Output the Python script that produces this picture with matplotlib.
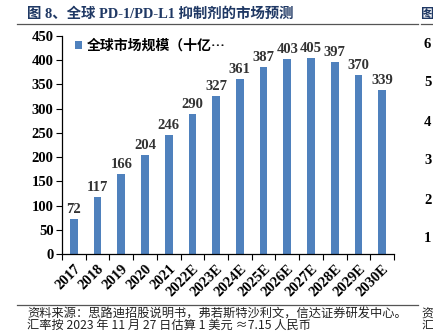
import matplotlib.pyplot as plt
import numpy as np

# global PD-1/PD-L1 inhibitor market, billion USD
years = ['2017', '2018', '2019', '2020', '2021', '2022E', '2023E', '2024E',
         '2025E', '2026E', '2027E', '2028E', '2029E', '2030E']
market = [72, 117, 166, 204, 246, 290, 327, 361, 387, 403, 405, 397, 370, 339]

title = '图 8、全球 PD-1/PD-L1 抑制剂的市场预测'
legend_label = '全球市场规模（十亿…'
source_note = '资料来源：思路迪招股说明书，弗若斯特沙利文，信达证券研发中心。'
rate_note = '汇率按 2023 年 11 月 27 日估算 1 美元 ≈7.15 人民币'

# neighbouring panel that is cut off at the right edge
side_ticks = ['6', '5', '4', '3', '2', '1']

serif = ['Liberation Serif', 'Noto Sans CJK SC', 'DejaVu Sans']
cjk = ['Noto Sans CJK SC', 'DejaVu Sans']
bar_color = '#4F81BD'
title_color = '#1F3864'

W, H = 433, 332
fig = plt.figure(figsize=(W / 100, H / 100), dpi=100)

def fx(px):
    return px / W

def fy(py):
    return 1 - py / H

ax = fig.add_axes([fx(62), fy(254), fx(394) - fx(62), fy(36) - fy(254)])

x = np.arange(len(years))
bars = ax.bar(x, market, width=0.32, color=bar_color, label=legend_label, zorder=2)

for xi, v in zip(x, market):
    ax.text(xi, v + 6, str(v), ha='center', va='bottom', fontsize=10.5,
            family=serif, fontweight='bold', color='#333333')

ax.set_xlim(-0.5, len(years) - 0.5)
ax.set_ylim(0, 450)
ax.set_yticks(np.arange(0, 451, 50))
ax.set_yticklabels([str(v) for v in range(0, 451, 50)], family=serif,
                   fontweight='bold', fontsize=10.5)
ax.set_xticks(x)
ax.set_xticklabels(years, rotation=45, ha='right', rotation_mode='anchor',
                   family=serif, fontweight='bold', fontsize=10.5)
ax.set_xticks(np.arange(-0.5, len(years), 1), minor=True)
ax.tick_params(axis='x', which='major', length=0, pad=6)
ax.tick_params(axis='x', which='minor', length=4, width=0.8, direction='out')
ax.tick_params(axis='y', length=4, width=0.8, direction='out', pad=2)

for side in ['top', 'right']:
    ax.spines[side].set_visible(False)
for side in ['left', 'bottom']:
    ax.spines[side].set_linewidth(0.9)

leg = ax.legend(loc='upper left', bbox_to_anchor=(0.0, 1.045), frameon=False,
                handlelength=0.55, handleheight=0.55, handletextpad=0.35,
                prop={'family': cjk, 'size': 10, 'weight': 'bold'})

# header and footer
fig.text(fx(27), fy(14), title, ha='left', va='center', fontsize=10.4,
         family=serif, fontweight='bold', color=title_color)
fig.text(fx(420), fy(14), '图', ha='left', va='center', fontsize=9.5,
         family=cjk, fontweight='bold', color=title_color)
fig.add_artist(plt.Line2D([fx(17), fx(418)], [fy(24), fy(24)], color='#555555', lw=0.9))
fig.add_artist(plt.Line2D([fx(421), fx(433)], [fy(24), fy(24)], color='#555555', lw=0.9))
fig.add_artist(plt.Line2D([fx(17), fx(418)], [fy(305), fy(305)], color='#555555', lw=0.9))

fig.text(fx(27), fy(314), source_note, ha='left', va='center', fontsize=8.8,
         family=cjk, style='italic', color='#222222')
fig.text(fx(27), fy(325.5), rate_note, ha='left', va='center', fontsize=8.8,
         family=cjk, style='italic', color='#222222')
fig.text(fx(421), fy(314), '资', ha='left', va='center', fontsize=8.5,
         family=cjk, color='#222222')
fig.text(fx(421), fy(325.5), '汇', ha='left', va='center', fontsize=8.5,
         family=cjk, color='#222222')

for i, t in enumerate(side_ticks):
    fig.text(fx(424), fy(44 + 39 * i), t, ha='left', va='center', fontsize=10.5,
             family=serif, fontweight='bold')

fig.savefig('out.png', dpi=100)
